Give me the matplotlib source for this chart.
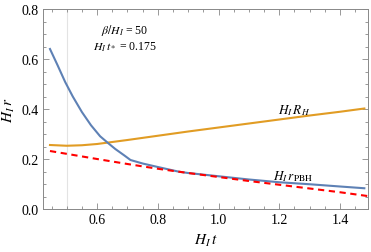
import matplotlib
matplotlib.use("Agg")
import matplotlib.pyplot as plt
from matplotlib.ticker import MultipleLocator

plt.rcParams['font.family'] = ['Liberation Serif', 'DejaVu Serif']
plt.rcParams['mathtext.fontset'] = 'stix'

# Data
t_blue = [0.445, 0.47, 0.495, 0.52, 0.55, 0.58, 0.61, 0.636, 0.66, 0.69, 0.71,
          0.75, 0.80, 0.87, 0.90, 1.0, 1.1, 1.2, 1.3, 1.4, 1.48]
r_pbh = [0.640, 0.575, 0.508, 0.450, 0.388, 0.335, 0.291, 0.264, 0.240, 0.214, 0.196,
         0.182, 0.168, 0.149, 0.144, 0.131, 0.118, 0.107, 0.099, 0.090, 0.083]

t_orange = [0.445, 0.5, 0.55, 0.6, 0.65, 0.7, 0.8, 0.9, 1.0, 1.1, 1.2, 1.3, 1.4, 1.48]
r_hub = [0.256, 0.253, 0.255, 0.260, 0.268, 0.276, 0.293, 0.310, 0.326, 0.342,
         0.358, 0.374, 0.389, 0.402]

t_red = [0.445, 0.6, 0.7, 0.8, 0.9, 1.0, 1.1, 1.2, 1.3, 1.4, 1.49]
r_approx = [0.232, 0.200, 0.180, 0.161, 0.144, 0.128, 0.112, 0.097, 0.082, 0.067, 0.052]

x_ticks = [0.6, 0.8, 1.0, 1.2, 1.4]
y_ticks = [0.0, 0.2, 0.4, 0.6, 0.8]
t_mark = 0.5

fig = plt.figure(figsize=(3.71, 2.53), dpi=100)
ax = fig.add_axes([43/371, 1-210/253, 325/371, 200/253])

ax.axvline(t_mark, color='#e3e3e3', lw=0.8, zorder=0)
ax.plot(t_orange, r_hub, color='#E19C24', lw=1.5)
ax.plot(t_blue, r_pbh, color='#5E81B5', lw=1.5)
ax.plot(t_red, r_approx, color='#FF0000', lw=1.5, ls=(0, (3, 2.2)))

ax.set_xlim(0.422, 1.492)
ax.set_ylim(0.0, 0.8)
ax.set_xticks(x_ticks)
ax.set_yticks(y_ticks)
ax.set_xticklabels([f"{v:.1f}" for v in x_ticks])
ax.set_yticklabels([f"{v:.1f}" for v in y_ticks])
ax.xaxis.set_minor_locator(MultipleLocator(0.05))
ax.yaxis.set_minor_locator(MultipleLocator(0.05))
ax.tick_params(which='both', direction='in', top=True, right=True,
               color='#888888', labelsize=10, width=0.6, pad=3)
ax.tick_params(which='major', length=4)
ax.tick_params(which='minor', length=2.2)
for s in ax.spines.values():
    s.set_color('#888888')
    s.set_linewidth(0.7)

ax.set_xlabel(r'$H_I\, t$', fontsize=11, labelpad=4)
ax.set_ylabel(r'$H_I\, r$', fontsize=11, labelpad=3)

ax.text(0.252, 0.895, r'$\beta/H_I$ = 50', transform=ax.transAxes,
        ha='center', va='center', fontsize=8.5)
ax.text(0.252, 0.815, r'$H_I\, t_*$ = 0.175', transform=ax.transAxes,
        ha='center', va='center', fontsize=8.5)
ax.text(1.248, 0.396, r'$H_I\, R_H$', ha='center', va='center', fontsize=9.5)
ax.text(1.245, 0.134, r'$H_I\, r_{\mathrm{PBH}}$', ha='center', va='center', fontsize=9.5)

fig.savefig('out.png', dpi=100)
